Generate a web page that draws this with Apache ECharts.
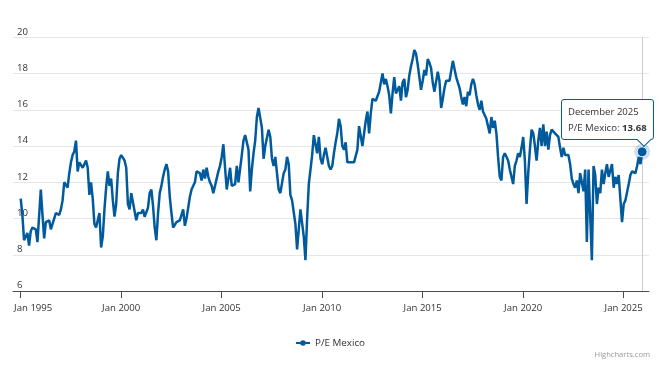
<!DOCTYPE html>
<html>
<head>
<meta charset="utf-8">
<script src="https://cdn.jsdelivr.net/npm/echarts@6/dist/echarts.min.js"></script>
<style>
html,body{margin:0;padding:0;background:#ffffff;}
#chart{width:670px;height:369px;}
</style>
</head>
<body>
<div id="chart"></div>
<script>
// ---------------- data ----------------
const seriesName = 'P/E Mexico';
const startYear = 1995;
const monthNames = ['January','February','March','April','May','June','July','August','September','October','November','December'];

const pe1995to1999 = [
  11.1, 10.2, 8.8, 8.7, 9.2, 8.5, 9.3, 9.5, 9.5, 9.4, 8.7, 8.6,
  11.6, 10.2, 8.9, 9.8, 9.7, 9.9, 9.4, 9.7, 10.0, 10.3, 10.3, 10.2,
  10.5, 11.0, 12.0, 12.1, 11.7, 12.5, 13.1, 13.5, 13.7, 14.3, 12.6, 13.1,
  13.0, 12.8, 13.0, 13.2, 12.8, 11.3, 12.0, 11.1, 9.7, 9.5, 9.6, 10.3,
  8.4, 9.0, 10.5, 11.7, 12.6, 11.8, 12.2, 11.0, 10.1, 10.8, 12.5, 13.3
];
const pe2000to2004 = [
  13.5, 13.5, 13.2, 12.8, 10.8, 10.5, 11.4, 10.9, 11.0, 9.9, 10.3, 10.2,
  10.3, 10.5, 10.1, 10.2, 10.6, 11.4, 11.6, 10.7, 9.5, 8.8, 10.3, 11.4,
  11.8, 12.3, 12.7, 13.0, 12.6, 11.2, 10.3, 9.5, 9.6, 9.8, 9.8, 9.9,
  10.2, 10.5, 9.6, 10.0, 9.9, 11.2, 11.6, 11.7, 12.0, 12.6, 12.7, 12.5,
  12.1, 12.7, 12.2, 12.8, 12.3, 12.0, 11.8, 11.4, 11.5, 12.2, 12.6, 12.9
];
const pe2005to2009 = [
  13.4, 14.1, 12.8, 11.6, 11.7, 12.8, 11.8, 11.8, 11.9, 12.9, 12.0, 12.1,
  13.5, 14.3, 14.6, 14.7, 13.8, 11.5, 12.7, 13.6, 14.3, 15.6, 16.1, 16.0,
  15.0, 13.3, 14.0, 13.9, 14.9, 14.5, 13.3, 12.9, 13.4, 12.5, 11.6, 11.4,
  11.4, 12.5, 12.7, 13.4, 13.0, 11.3, 11.0, 11.0, 9.7, 8.3, 8.4, 10.5,
  10.5, 9.0, 7.7, 10.0, 11.9, 12.0, 13.5, 14.6, 14.6, 13.6, 14.5, 13.3
];
const pe2010to2014 = [
  13.0, 13.5, 13.9, 13.8, 12.9, 12.7, 12.9, 13.6, 14.2, 14.7, 15.5, 15.1,
  14.0, 13.8, 14.2, 13.1, 13.0, 13.1, 13.1, 13.1, 13.2, 13.8, 15.1, 15.2,
  14.0, 14.7, 15.4, 15.9, 14.7, 15.8, 16.6, 16.5, 16.5, 16.5, 17.0, 17.5,
  18.0, 17.4, 17.7, 17.3, 16.8, 15.8, 16.9, 17.8, 16.9, 16.8, 17.3, 16.5,
  17.5, 17.7, 16.7, 17.1, 17.9, 18.4, 18.8, 19.3, 19.1, 18.5, 17.8, 17.1
];
const pe2015to2019 = [
  17.6, 18.2, 17.9, 18.8, 18.6, 18.3, 17.5, 17.0, 16.9, 18.1, 17.6, 16.1,
  16.6, 17.2, 17.6, 17.6, 17.6, 17.5, 18.7, 18.6, 17.8, 17.7, 17.2, 16.7,
  16.3, 16.7, 16.2, 17.0, 16.8, 17.4, 17.7, 17.4, 16.8, 16.3, 16.0, 16.5,
  15.9, 16.0, 15.5, 15.6, 14.7, 15.6, 15.0, 15.4, 14.7, 13.4, 12.3, 12.1,
  13.4, 13.6, 13.6, 13.2, 12.7, 12.7, 11.9, 12.9, 13.2, 13.6, 13.4, 13.9
];
const pe2020to2025 = [
  14.5, 13.2, 10.8, 12.5, 13.8, 14.9, 14.7, 14.0, 13.2, 14.3, 15.0, 14.0,
  15.2, 14.0, 14.8, 13.8, 14.6, 14.9, 14.8, 14.7, 14.8, 14.5, 13.9, 13.4,
  13.9, 13.5, 13.5, 13.5, 13.0, 12.2, 11.9, 11.7, 12.1, 11.4, 12.5, 12.6,
  11.5, 12.7, 8.7, 12.7, 12.8, 7.7, 12.9, 12.4, 10.8, 11.7, 11.4, 12.7,
  11.9, 12.5, 13.0, 12.3, 12.2, 13.0, 11.7, 12.3, 11.9, 12.4, 11.1, 9.8,
  10.8, 11.0, 11.0, 11.9, 12.4, 12.6, 12.6, 12.5, 12.9, 13.4, 13.0, 13.68
];
// x ticks: month index from January 1995
const xTickMonths = [0, 60, 120, 180, 240, 300, 360];
const yMin = 6, yMax = 20, yStep = 2;

// ---------------- build ----------------
const values = [].concat(pe1995to1999, pe2000to2004, pe2005to2009, pe2010to2014, pe2015to2019, pe2020to2025);
const lineData = values.map((v, i) => [i, v]);
const lastIndex = values.length - 1;
const lastPoint = [[lastIndex, values[lastIndex]]];

const FONT = '"Open Sans", "Liberation Sans", sans-serif';
const BLUE = '#005a9c';

function monthLabel(i) {
  return monthNames[i % 12] + ' ' + (startYear + Math.floor(i / 12));
}

const chart = echarts.init(document.getElementById('chart'), null, {renderer: 'canvas'});
chart.setOption({
  animation: false,
  backgroundColor: '#ffffff',
  textStyle: {fontFamily: FONT},
  grid: {left: 13, right: 21, top: 37.3, bottom: 78, containLabel: false, outerBoundsMode: 'none'},
  xAxis: {
    type: 'value',
    min: -4.6,
    max: 375.1,
    splitLine: {show: false},
    axisLine: {show: true, lineStyle: {color: '#4d4d4d', width: 1}},
    axisTick: {show: true, customValues: xTickMonths, length: 7, lineStyle: {color: '#4d4d4d', width: 1}},
    axisLabel: {
      customValues: xTickMonths,
      color: '#333333',
      fontSize: 9.6,
      fontFamily: FONT,
      margin: 12,
      formatter: function (v) {
        const idx = Math.round(v);
        const txt = monthNames[idx % 12].slice(0, 3) + ' ' + (startYear + Math.floor(idx / 12));
        return idx === xTickMonths[0] ? '{first|' + txt + '}' : txt;
      },
      rich: {
        first: {padding: [0, 0, 0, 25], fontSize: 9.6, color: '#333333', fontFamily: FONT}
      }
    }
  },
  yAxis: {
    type: 'value',
    min: yMin,
    max: yMax,
    interval: yStep,
    axisLine: {show: false},
    axisTick: {show: false},
    splitLine: {lineStyle: {color: '#e6e6e6', width: 1}},
    axisLabel: {inside: true, margin: 4, verticalAlign: 'bottom', color: '#333333', fontSize: 9.6, fontFamily: FONT, lineHeight: 11}
  },
  legend: {
    data: [seriesName],
    left: 290,
    top: 333,
    itemWidth: 14,
    itemHeight: 7,
    selectedMode: false,
    textStyle: {color: '#333333', fontSize: 9.8, fontFamily: FONT}
  },
  tooltip: {
    trigger: 'item',
    triggerOn: 'none',
    alwaysShowContent: true,
    transitionDuration: 0,
    backgroundColor: '#ffffff',
    borderColor: BLUE,
    borderWidth: 1,
    borderRadius: 3,
    padding: [4, 6],
    textStyle: {color: '#333333', fontSize: 9.6, fontFamily: FONT},
    extraCssText: 'box-shadow:none;',
    position: function (point) {
      return [point[0] - 81.5, point[1] - 53];
    },
    formatter: function (p) {
      const i = p.data[0];
      return '<div style="font-size:9.6px;line-height:15.5px;color:#333;white-space:nowrap;font-family:' + FONT.replace(/"/g, "'") + '">' +
        monthLabel(i) + '<br/>' + seriesName + ': <b>' + p.data[1].toFixed(2) + '</b></div>' +
        '<div style="position:absolute;left:77px;bottom:-5.5px;width:9px;height:9px;background:#fff;' +
        'border-right:1px solid ' + BLUE + ';border-bottom:1px solid ' + BLUE + ';transform:rotate(45deg);"></div>';
    }
  },
  graphic: [{
    type: 'text',
    right: 20,
    top: 351,
    style: {text: 'Highcharts.com', fontSize: 7.6, fill: '#999999', fontFamily: FONT}
  }],
  series: [
    {
      name: seriesName,
      type: 'line',
      data: lineData,
      showSymbol: false,
      symbol: 'circle',
      symbolSize: 7,
      silent: true,
      tooltip: {show: false},
      lineStyle: {color: BLUE, width: 2.5},
      itemStyle: {color: BLUE},
      z: 2,
      markLine: {
        silent: true,
        z: 1,
        symbol: 'none',
        animation: false,
        label: {show: false},
        lineStyle: {color: '#cccccc', width: 1, type: 'solid'},
        data: [{xAxis: lastIndex}]
      }
    },
    {
      name: 'halo',
      type: 'scatter',
      data: lastPoint,
      symbolSize: 16,
      silent: true,
      tooltip: {show: false},
      itemStyle: {color: 'rgba(0,90,156,0.25)'},
      z: 3
    },
    {
      name: 'marker',
      type: 'scatter',
      data: lastPoint,
      symbolSize: 10,
      itemStyle: {color: BLUE, borderColor: '#ffffff', borderWidth: 1, opacity: 1},
      emphasis: {disabled: true},
      z: 4
    }
  ]
});
chart.dispatchAction({type: 'showTip', seriesIndex: 2, dataIndex: 0});
</script>
</body>
</html>
